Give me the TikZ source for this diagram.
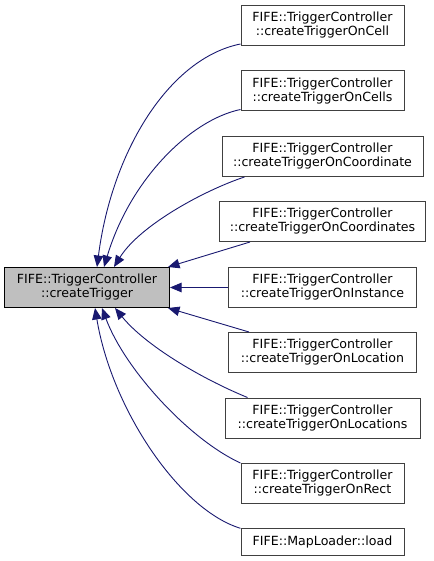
\documentclass[tikz,border=0pt]{standalone}
\usepackage{fontspec}
\setmainfont{DejaVu Sans}
\usetikzlibrary{arrows.meta}
\definecolor{edgec}{HTML}{191970}
\definecolor{mainfill}{HTML}{BFBFBF}
\definecolor{boxline}{HTML}{404040}
\tikzset{
 box/.style={draw=boxline, line width=1pt, fill=white, anchor=north, align=center, inner sep=1pt, font=\fontsize{12.6}{14}\selectfont, text=black, minimum height=40pt},
 mainbox/.style={box, draw=black, fill=mainfill, anchor=north west},
 edge/.style={draw=edgec, line width=0.9pt, -{Triangle[length=11.5pt,width=9.5pt]}},
}
\begin{document}
\begin{tikzpicture}[x=1pt,y=-1pt]
\useasboundingbox (0,0) rectangle (433,561);
\node[mainbox, minimum width=165pt] (main) at (4,267) {FIFE::TriggerController\\::createTrigger};
\node[box, minimum width=163pt] (cell) at (322.5,5) {FIFE::TriggerController\\::createTriggerOnCell};
\node[box, minimum width=163pt] (cells) at (322.5,70.5) {FIFE::TriggerController\\::createTriggerOnCells};
\node[box, minimum width=201pt] (coord) at (322.5,136) {FIFE::TriggerController\\::createTriggerOnCoordinate};
\node[box, minimum width=206pt] (coords) at (322.5,201) {FIFE::TriggerController\\::createTriggerOnCoordinates};
\node[box, minimum width=188pt] (inst) at (322.5,267) {FIFE::TriggerController\\::createTriggerOnInstance};
\node[box, minimum width=188pt] (loc) at (322.5,332) {FIFE::TriggerController\\::createTriggerOnLocation};
\node[box, minimum width=195pt] (locs) at (322.5,397.5) {FIFE::TriggerController\\::createTriggerOnLocations};
\node[box, minimum width=163pt] (rect) at (322.5,463) {FIFE::TriggerController\\::createTriggerOnRect};
\node[box, minimum width=163pt, minimum height=26.5pt] (map) at (322.5,528.3) {FIFE::MapLoader::load};

\draw[edge] ([yshift=2pt]cell.south west) .. controls (170,58) and (112,150) .. ([xshift=93pt]main.north west);
\draw[edge] ([yshift=2pt]cells.south west) .. controls (190,120) and (130,180) .. ([xshift=100pt]main.north west);
\draw[edge] ([xshift=23pt]coord.south west) .. controls (205,190) and (140,225) .. ([xshift=110pt]main.north west);
\draw[edge] ([xshift=31pt]coords.south west) -- ([xshift=-2pt]main.north east);
\draw[edge] (inst.west) -- (main.east);
\draw[edge] ([xshift=21pt]loc.north west) -- ([xshift=-2pt]main.south east);
\draw[edge] ([xshift=23pt]locs.north west) .. controls (200,378) and (145,345) .. ([xshift=111pt]main.south west);
\draw[edge] (rect.north west) .. controls (190,440) and (125,370) .. ([xshift=98pt]main.south west);
\draw[edge] (map.north west) .. controls (180,510) and (112,410) .. ([xshift=91pt]main.south west);
\end{tikzpicture}
\end{document}
